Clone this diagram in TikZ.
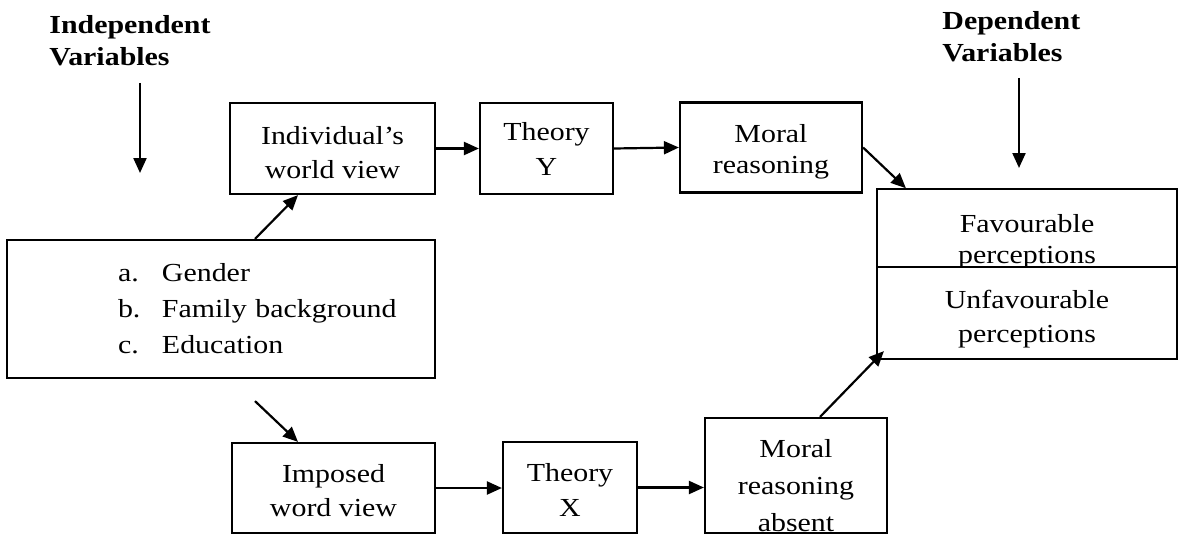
\documentclass[tikz,border=0pt]{standalone}
\usepackage{fontspec}
\setmainfont{Liberation Serif}[FakeStretch=1.15]
\usetikzlibrary{arrows.meta}

\begin{document}
\begin{tikzpicture}[
    x=0.5pt, y=-0.5pt,
    box/.style={draw, line width=1.1pt, align=center, inner sep=0pt, font=\fontsize{13}{17}\selectfont},
    heading/.style={anchor=west, align=left, inner sep=0pt, font=\fontsize{13}{16}\selectfont\bfseries},
    arrow/.style={-{Triangle[length=7.5pt,width=6.5pt]}, line width=1.1pt}
]
\useasboundingbox (0,0) rectangle (1182,535);

\node[heading] (indep) at (49,41) {Independent\\Variables};
\node[heading] (dep) at (942,37) {Dependent\\Variables};
\coordinate (ia1) at (140,83);  \coordinate (ia2) at (140,173);
\coordinate (da1) at (1019,78); \coordinate (da2) at (1019,168);

\node[box, minimum width=214pt, minimum height=69pt, text width=214pt, align=left,
      font=\fontsize{13}{18}\selectfont] (vars) at (221,309)
    {\hspace*{55.5pt}\makebox[22pt][l]{a.}Gender\\
     \hspace*{55.5pt}\makebox[22pt][l]{b.}Family background\\
     \hspace*{55.5pt}\makebox[22pt][l]{c.}Education};

\node[box, minimum width=102.5pt, minimum height=45.5pt] (iwv) at (332.5,148.5) {\rule{0pt}{12.9pt}Individual's\\world view};
\node[box, minimum width=66.5pt, minimum height=45.5pt, font=\fontsize{13}{17.5}\selectfont] (thy) at (546.5,148.5) {Theory\\Y};
\node[box, minimum width=91pt, minimum height=45pt, font=\fontsize{13}{15.5}\selectfont] (mr) at (771,147.5) {\rule{0pt}{12.9pt}Moral\\reasoning};

\node[box, minimum width=150pt, minimum height=38pt, font=\fontsize{13}{15.5}\selectfont] (fav) at (1027,229) {\rule{0pt}{21.4pt}Favourable\\perceptions};
\node[box, minimum width=150pt, minimum height=46pt, fill=white] (unfav) at (1027,313) {\rule{0pt}{14.9pt}Unfavourable\\perceptions};

\node[box, minimum width=101.5pt, minimum height=45pt] (imp) at (333.5,488) {\rule{0pt}{11.9pt}Imposed\\word view};
\node[box, minimum width=67pt, minimum height=45.5pt, font=\fontsize{13}{17.5}\selectfont] (thx) at (570,487.5) {\rule{0pt}{11.9pt}Theory\\X};
\node[box, minimum width=91pt, minimum height=57.5pt, font=\fontsize{13}{18.5}\selectfont] (mra) at (796,475.5) {\rule{0pt}{19.4pt}Moral\\reasoning\\absent};

% top row
\draw[arrow] (ia1) -- (ia2);
\draw[arrow] (da1) -- (da2);
\draw[arrow] ([xshift=17pt]vars.north) -- ([xshift=-17.25pt]iwv.south);
\draw[arrow] (iwv.east) -- (thy.west);
\draw[arrow] (thy.east) -- (mr.west);
\draw[arrow] (mr.east) -- ([xshift=15pt]fav.north west);

% bottom row
\draw[arrow] ([xshift=17pt,yshift=-11pt]vars.south) -- ([xshift=-17.75pt]imp.north);
\draw[arrow] (imp.east) -- (imp.east -| thx.west);
\draw[arrow] (thx.east) -- (thx.east -| mra.west);
\draw[arrow] ([xshift=12pt]mra.north) -- ([shift={(4pt,4.5pt)}]unfav.south west);
\end{tikzpicture}
\end{document}
